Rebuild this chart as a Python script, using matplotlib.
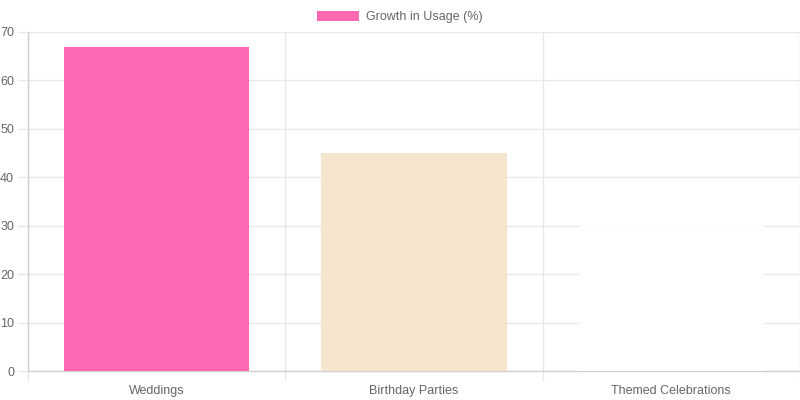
import matplotlib
matplotlib.use("Agg")
import matplotlib.pyplot as plt
from matplotlib.patches import Rectangle

categories = ["Weddings", "Birthday Parties", "Themed Celebrations"]
values = [67, 45, 30]
colors = ["#FF69B4", "#F6E5CD", "#FFFFFF"]
series_label = "Growth in Usage (%)"
yticks = [0, 10, 20, 30, 40, 50, 60, 70]

plt.rcParams['font.family'] = ['Liberation Sans', 'DejaVu Sans']
fig = plt.figure(figsize=(8, 4), dpi=100)
ax = fig.add_axes([28/800, 29/400, 772/800, 339/400])

x = list(range(len(categories)))
ax.bar(x, values, width=0.72, color=colors, zorder=3, linewidth=0)

ax.set_xlim(-0.5, len(categories) - 0.5)
ax.set_ylim(0, 70)
ax.set_yticks(yticks)
ax.set_xticks(x)
ax.set_xticklabels(categories)
ax.set_xticks([i + 0.5 for i in range(-1, len(categories))], minor=True)

grid_c = "#e8e8e8"
ax.grid(axis='y', which='major', color=grid_c, linewidth=1, zorder=0)
ax.grid(axis='x', which='minor', color=grid_c, linewidth=1, zorder=0)
ax.tick_params(axis='x', which='major', length=0, labelsize=9, labelcolor="#666666", pad=10)
ax.tick_params(axis='x', which='minor', length=7, color=grid_c, width=1)
ax.tick_params(axis='y', length=8, color=grid_c, width=1, labelsize=9, labelcolor="#666666", pad=2)
for s in ['top', 'right']:
    ax.spines[s].set_visible(False)
for s in ['left', 'bottom']:
    ax.spines[s].set_color("#d0d0d0")
    ax.spines[s].set_linewidth(1)
ax.set_axisbelow(True)

handle = Rectangle((0, 0), 1, 1, facecolor=colors[0], edgecolor='none')
fig.legend([handle], [series_label], loc='upper center', bbox_to_anchor=(0.5, 0.995),
           frameon=False, fontsize=9, labelcolor="#666666", handlelength=3.3,
           handleheight=0.9, handletextpad=0.6, borderaxespad=0.3)

fig.savefig("out.png", dpi=100)
